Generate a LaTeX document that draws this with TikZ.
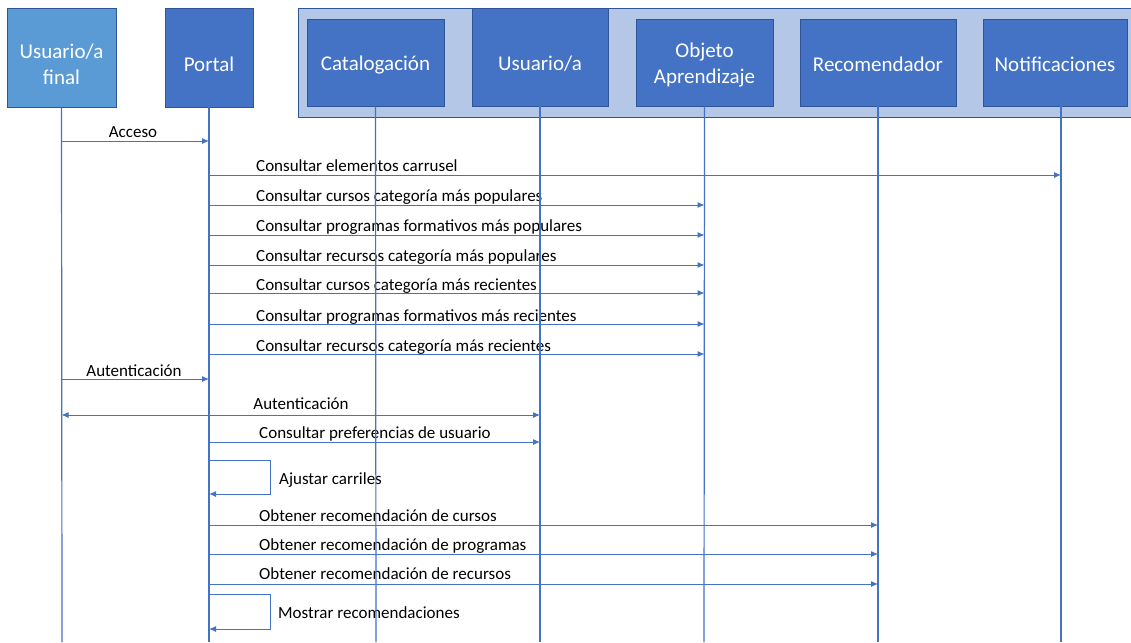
\documentclass[tikz,border=0pt]{standalone}
\usepackage{fontspec}
\setmainfont{Carlito}
\usetikzlibrary{arrows.meta}
\definecolor{hdrblue}{HTML}{4472C4}
\definecolor{hdrlight}{HTML}{5B9BD5}
\definecolor{hdrborder}{HTML}{2F5597}
\definecolor{contfill}{HTML}{B4C7E7}
\definecolor{linecol}{HTML}{4472C4}
\tikzset{
  hdr/.style={draw=hdrborder, line width=0.8pt, fill=hdrblue, inner sep=0pt},
  hdrtxt/.style={text=white, font=\fontsize{21}{26}\selectfont, align=center, inner sep=0pt},
  life/.style={draw=linecol, line width=1.2pt},
  msg/.style={draw=linecol, line width=1pt, -{Latex[length=7pt,width=6pt]}},
  dmsg/.style={draw=linecol, line width=1pt, {Latex[length=7pt,width=6pt]}-{Latex[length=7pt,width=6pt]}},
  lbl/.style={font=\fontsize{17}{20}\selectfont, text=black, inner sep=0pt, anchor=base west},
  clbl/.style={font=\fontsize{17}{20}\selectfont, text=black, inner sep=0pt, anchor=base},
}
\begin{document}
\begin{tikzpicture}[x=1pt,y=-1pt]
\useasboundingbox (0,0) rectangle (1131,642);
\fill[white] (0,0) rectangle (1131,642);
% container
\node[draw=hdrborder, line width=0.8pt, fill=contfill, minimum width=840pt, minimum height=109pt, anchor=north west, inner sep=0pt] (cont) at (298,8) {};
% headers
\node[hdr, fill=hdrlight, minimum width=109pt, minimum height=99pt, label={[hdrtxt, yshift=-7pt]center:Usuario/a\\final}] (u) at (61.5,57.5) {};
\node[hdr, minimum width=88pt, minimum height=99pt, label={[hdrtxt, yshift=-7pt]center:Portal}] (p) at (209,57.5) {};
\node[hdr, minimum width=137pt, minimum height=87pt, label={[hdrtxt, yshift=-3pt]center:Catalogación}] (c) at (375.5,62.5) {};
\node[hdr, minimum width=136pt, minimum height=98pt, label={[hdrtxt, yshift=-7pt]center:Usuario/a}] (us) at (540,57) {};
\node[hdr, minimum width=137pt, minimum height=87pt, label={[hdrtxt, yshift=-3pt]center:Objeto\\Aprendizaje}] (o) at (704.5,62.5) {};
\node[hdr, minimum width=156pt, minimum height=87pt, label={[hdrtxt, yshift=-2pt]center:Recomendador}] (r) at (878,62.5) {};
\node[hdr, minimum width=144pt, minimum height=87pt, label={[hdrtxt, yshift=-2pt]center:Notificaciones}] (n) at (1055,62.5) {};
% lifeline end coordinates
\coordinate (uE) at (62,642);
\coordinate (pE) at (209,642);
\coordinate (cE) at (376,642);
\coordinate (usE) at (540,642);
\coordinate (oE) at (704,642);
\coordinate (rE) at (878,642);
\coordinate (nE) at (1061,642);
% labels
\node[clbl] (l1) at (133,137) {Acceso};
\node[lbl] (l2) at (256,171) {Consultar elementos carrusel};
\node[lbl] (l3) at (256,201) {Consultar cursos categoría más populares};
\node[lbl] (l4) at (256,231) {Consultar programas formativos más populares};
\node[lbl] (l5) at (256,261) {Consultar recursos categoría más populares};
\node[lbl] (l6) at (256,290) {Consultar cursos categoría más recientes};
\node[lbl] (l7) at (256,321) {Consultar programas formativos más recientes};
\node[lbl] (l8) at (256,351) {Consultar recursos categoría más recientes};
\node[clbl] (l9) at (134,376) {Autenticación};
\node[clbl] (l10) at (301,409) {Autenticación};
\node[clbl] (l11) at (375,438) {Consultar preferencias de usuario};
\node[lbl] (l12) at (279,484) {Ajustar carriles};
\node[lbl] (l13) at (259,521) {Obtener recomendación de cursos};
\node[lbl] (l14) at (259,550) {Obtener recomendación de programas};
\node[lbl] (l15) at (259,579) {Obtener recomendación de recursos};
\node[lbl] (l16) at (278,618) {Mostrar recomendaciones};
% lifelines
\draw[life] (u.south) -- (uE);
\draw[life] (p.south) -- (pE);
\draw[life] (c.south) -- (cE);
\draw[life] (us.south) -- (usE);
\draw[life] (o.south) -- (oE);
\draw[life] (r.south) -- (rE);
\draw[life] (n.south -| nE) -- (nE);
% messages
\draw[msg] (u |- 0,141) -- (p |- 0,141);
\draw[msg] (p |- 0,175) -- (nE |- 0,175);
\draw[msg] (p |- 0,205) -- (o |- 0,205);
\draw[msg] (p |- 0,235) -- (o |- 0,235);
\draw[msg] (p |- 0,265) -- (o |- 0,265);
\draw[msg] (p |- 0,293) -- (o |- 0,293);
\draw[msg] (p |- 0,324) -- (o |- 0,324);
\draw[msg] (p |- 0,354) -- (o |- 0,354);
\draw[msg] (u |- 0,379) -- (p |- 0,379);
\draw[dmsg] (u |- 0,415) -- (us |- 0,415);
\draw[msg] (p |- 0,442) -- (us |- 0,442);
\coordinate (a1) at (270,460);
\coordinate (a2) at (270,494);
\draw[msg] (p |- a1) -- (a1) -- (a2) -- (p |- a2);
\draw[msg] (p |- 0,525) -- (r |- 0,525);
\draw[msg] (p |- 0,554) -- (r |- 0,554);
\draw[msg] (p |- 0,584) -- (r |- 0,584);
\coordinate (b1) at (270,594);
\coordinate (b2) at (270,629);
\draw[msg] (p |- b1) -- (b1) -- (b2) -- (p |- b2);
\end{tikzpicture}
\end{document}
